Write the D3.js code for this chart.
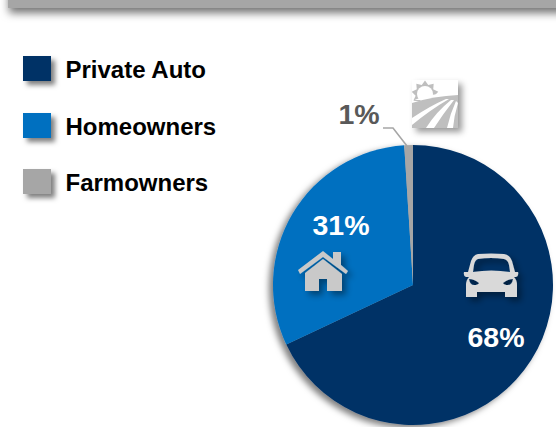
<!DOCTYPE html>
<html>
<head>
<meta charset="utf-8">
<script src="https://cdn.jsdelivr.net/npm/d3@7/dist/d3.min.js"></script>
<style>
html,body{margin:0;padding:0;background:#fff;}
svg{display:block;}
text{font-family:"Liberation Sans",Arial,sans-serif;font-weight:700;}
</style>
</head>
<body>
<script>
const categories = ["Private Auto", "Homeowners", "Farmowners"];
const shares = [68, 31, 1];
const colors = ["#003366", "#0070c0", "#a6a6a6"];
const shareLabels = ["68%", "31%", "1%"];

const width = 556, height = 427;
const svg = d3.select("body").append("svg").attr("width", width).attr("height", height);
const defs = svg.append("defs");

function shadow(id, dx, dy, blur, opacity) {
  const f = defs.append("filter").attr("id", id)
    .attr("x", "-30%").attr("y", "-30%").attr("width", "170%").attr("height", "170%");
  f.append("feDropShadow").attr("dx", dx).attr("dy", dy).attr("stdDeviation", blur)
    .attr("flood-color", "#000").attr("flood-opacity", opacity);
}
shadow("soft", 4, 4, 2.8, 0.5);
shadow("banner", 1, 5, 4, 0.55);
shadow("pieShadow", -4, 3, 3, 0.5);
shadow("iconShadow", 4, 4, 3, 0.4);

// Banner running off the top edge
svg.append("rect").attr("x", 8).attr("y", -30).attr("width", 590).attr("height", 38)
  .attr("fill", "#a6a6a6").attr("filter", "url(#banner)");

// Legend
const legendTops = [56, 113, 169];
const legend = svg.append("g").selectAll("g").data(categories).join("g")
  .attr("transform", (c, i) => `translate(23,${legendTops[i]})`);
legend.append("rect").attr("width", 28).attr("height", 25)
  .attr("fill", (c, i) => colors[i]).attr("filter", "url(#soft)");
legend.append("text").attr("x", 42.5).attr("y", 22).attr("font-size", 24).attr("fill", "#000")
  .text(c => c);

// Pie, clockwise from twelve o'clock
const cx = 413, cy = 285, radius = 140;
const pie = d3.pie().sort(null)(shares);
const arc = d3.arc().innerRadius(0).outerRadius(radius);
const pieG = svg.append("g").attr("transform", `translate(${cx},${cy})`).attr("filter", "url(#pieShadow)");
pieG.selectAll("path").data(pie).join("path")
  .attr("d", arc).attr("fill", (d, i) => colors[i]);

// Leader line for the smallest slice
svg.append("path").attr("d", d3.line()([[383, 128], [393, 128], [407, 146]]))
  .attr("fill", "none").attr("stroke", "#a6a6a6").attr("stroke-width", 1.6);

// Percentage labels
const labelPos = [[496, 347], [341, 235], [359, 124]];
const labelFill = ["#fff", "#fff", "#595959"];
svg.append("g").selectAll("text").data(shareLabels).join("text")
  .attr("x", (d, i) => labelPos[i][0]).attr("y", (d, i) => labelPos[i][1])
  .attr("text-anchor", "middle").attr("font-size", 28.5)
  .attr("fill", (d, i) => labelFill[i]).text(d => d);

// Car icon
svg.append("path").attr("fill", "#d9d9d9").attr("filter", "url(#iconShadow)").attr("fill-rule", "evenodd")
  .attr("d", "M478 254 Q491 253 504 254 Q510 255 512 261 L515 272 L518 272 Q519 276 516 277 L514 277 Q517 280 517 285 L517 297 L505 297 L505 292 L477 292 L477 297 L466 297 L466 285 Q466 280 469 277 L466 277 Q463 276 464 272 L468 272 L471 261 Q473 255 478 254 Z M478 259 Q491 257 504 259 Q508 260 509 265 L510 272 Q491 269 473 272 L474 265 Q475 260 478 259 Z M469 279 Q474 279 479 283 Q478 285 474 285 Q470 285 469 279 Z M513 279 Q508 279 503 283 Q504 285 508 285 Q512 285 513 279 Z");

// House icon
svg.append("g").attr("filter", "url(#iconShadow)").call(g => {
  g.append("path").attr("fill", "#c9c9c9")
    .attr("d", "M323 259 L342 274 L342 291 L327 291 L327 279 L319 279 L319 291 L305 291 L305 273 Z");
  g.append("path").attr("fill", "#c9c9c9")
    .attr("d", "M298 270 L323 251 L333 259 L333 252 L341 252 L341 265 L348 271 L346 274 L323 257 L300 274 Z");
});

// Farm field icon: sun with rays above a fan of furrows
const sunRing = d3.range(18).map(i => [i * Math.PI / 9, i % 2 ? 9.5 : 13.5]);
svg.append("g").attr("filter", "url(#iconShadow)").call(g => {
  g.append("rect").attr("x", 412).attr("y", 80).attr("width", 46).attr("height", 48).attr("fill", "#fff");
  g.append("path").attr("fill", "#bfbfbf").attr("transform", "translate(425,94)")
    .attr("d", d3.lineRadial().curve(d3.curveLinearClosed)(sunRing));
  g.append("circle").attr("cx", 425).attr("cy", 94).attr("r", 8).attr("fill", "#fff");
  g.append("path").attr("fill", "#fff")
    .attr("d", "M412 101 Q432 92 458 93 V100 H412 Z");
  g.append("path").attr("fill", "#bfbfbf")
    .attr("d", "M412 103 Q434 96 458 95 V128 H412 Z");
  g.append("path").attr("fill", "#fff")
    .attr("d", "M412 118 Q430 106 446 99 L449 99 Q430 110 412 125 Z M426 128 Q436 112 451 100 L454 100 Q443 114 434 128 Z M447 128 Q450 114 456 101 L458 103 Q454 116 453 128 Z");
});
</script>
</body>
</html>
